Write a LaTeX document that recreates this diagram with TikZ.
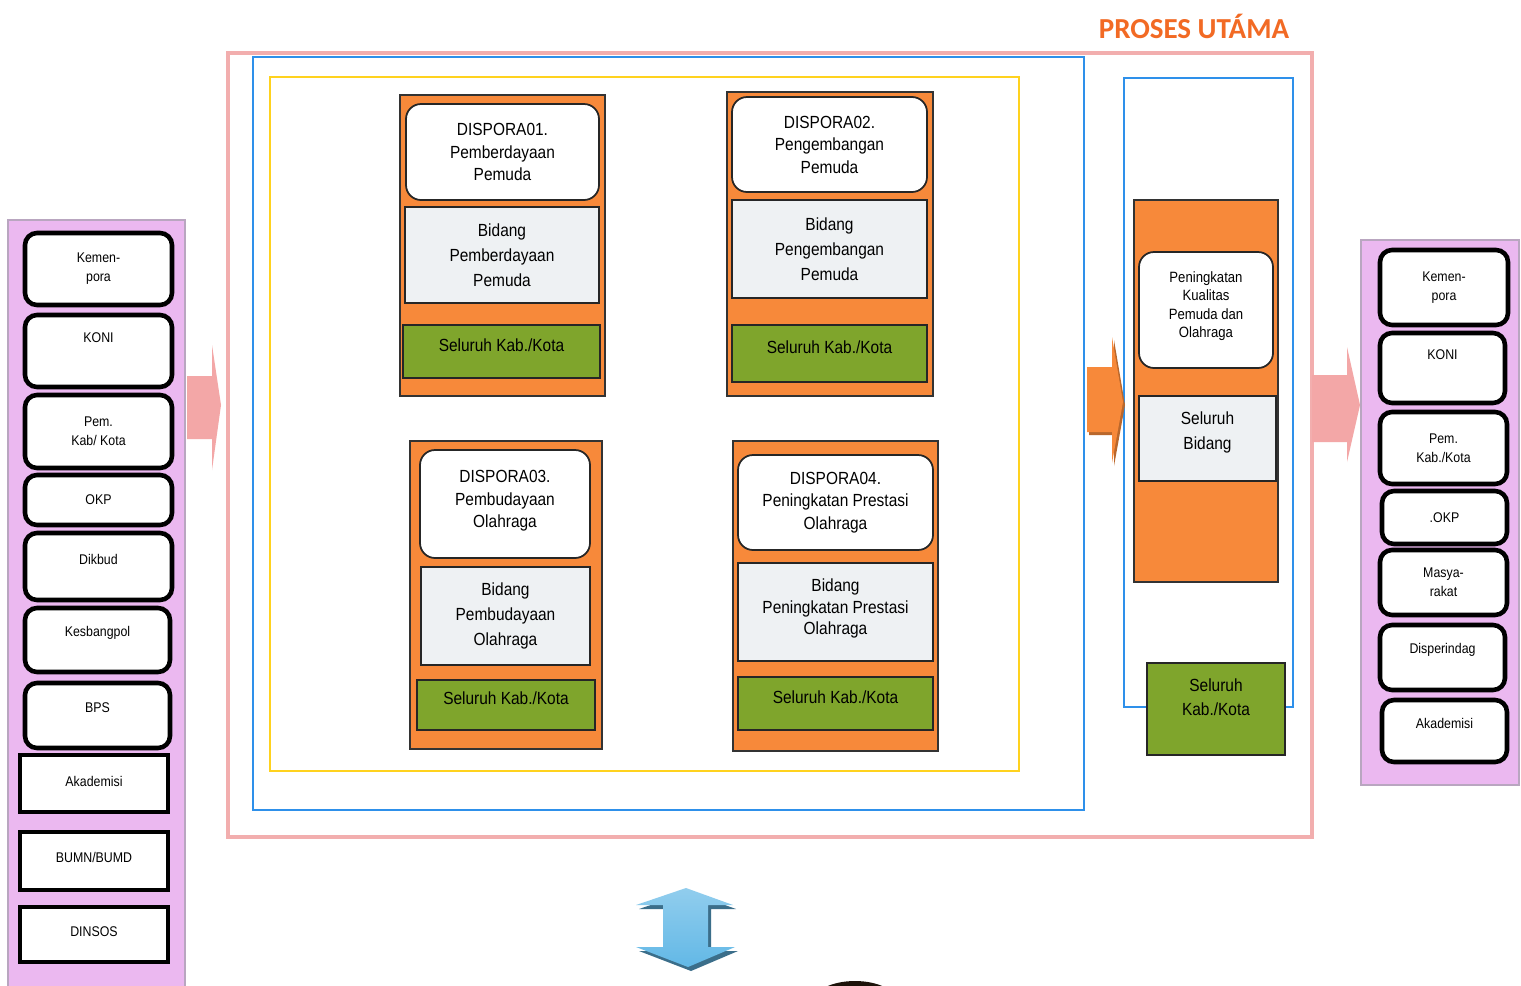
\documentclass[tikz,border=0pt]{standalone}
\usepackage{fontspec}
\setmainfont{Liberation Sans}[FakeStretch=0.88]
\newfontfamily\titlefont{Carlito}
\definecolor{panelviolet}{HTML}{EBB8F0}
\definecolor{paneledge}{HTML}{B9A6C0}
\definecolor{framepink}{HTML}{F2AEAE}
\definecolor{frameblue}{HTML}{2E90EA}
\definecolor{frameyellow}{HTML}{FFD21E}
\definecolor{boxorange}{HTML}{F7893A}
\definecolor{boxgreen}{HTML}{7FA52C}
\definecolor{boxlight}{HTML}{EEF1F3}
\definecolor{arrowpink}{HTML}{F3A7A7}
\definecolor{arrowblue}{HTML}{62B8E6}
\definecolor{titleorange}{HTML}{F26A24}
\newcommand\upby[2]{\raisebox{#1}[\height][\depth]{#2}}
\newcommand\topgap[1]{\rule{0pt}{#1}}
\newcommand\botgap[1]{\rule[-#1]{0pt}{#1}}

\begin{document}
\begin{tikzpicture}[x=0.02cm, y=-0.02cm,
		every node/.style = {inner sep=0pt, align=center,
			font=\fontsize{10}{12.8}\selectfont},
		sink/.style = {execute at begin node=\topgap{#1}},
		lift/.style = {execute at end node=\botgap{#1}},
		area/.style n args = {4}{at={({(#1+#3)/2},{(#2+#4)/2})},
			minimum width={(#3-#1)*0.02cm}, minimum height={(#4-#2)*0.02cm}},
		panel/.style = {fill=panelviolet, draw=paneledge, line width=0.8pt},
		party/.style = {draw=black, line width=2.6pt, rounded corners=0.24cm,
			fill=white, font=\fontsize{8}{10.8}\selectfont},
		partytwo/.style = {party, sink=14pt},
		partysq/.style = {party, rounded corners=0pt},
		frame/.style = {draw, fill=none},
		group/.style = {fill=boxorange, draw=black!80, line width=1.1pt},
		program/.style = {fill=white, draw=black!85, line width=1pt, rounded corners=0.3cm},
		bidang/.style = {fill=boxlight, draw=black!85, line width=1pt,
			font=\fontsize{10}{14.2}\selectfont},
		wilayah/.style = {fill=boxgreen, draw=black!85, line width=1pt}]
	\useasboundingbox[fill=white] (0,0) rectangle (1521,985);
	\node[panel, area={8}{220}{185}{995}] (masukan) {};
	\node[panel, area={1361}{240}{1519}{785}] (keluaran) {};
	\node[frame, draw=framepink, line width=2.2pt, area={228}{53}{1312}{837}] (proses) {};
	\node[frame, draw=frameblue, line width=1.1pt, area={253}{57}{1084}{810}] (bidangan) {};
	\node[frame, draw=frameyellow, line width=1pt, area={270}{77}{1019}{771}] (program) {};
	\node[frame, draw=frameblue, line width=1.1pt, area={1124}{78}{1293}{707}] (hasil) {};
	\node[text=titleorange, font=\titlefont\fontsize{16.5}{18}\selectfont\bfseries] (judul) at (1194,26) {PROSES UT\'AMA};

	\node[partytwo, area={25}{233}{172}{305}] (kemenL) {Kemen-\\pora};
	\node[party, area={25}{315}{172}{387}] (koniL) {\upby{0.26cm}{KONI}};
	\node[partytwo, area={25}{395}{172}{468}] (pemkabL) {Pem.\\Kab/ Kota};
	\node[party, area={25}{475}{172}{525}] (okpL) {OKP};
	\node[party, area={25}{533}{172}{600}] (dikbudL) {\upby{0.15cm}{Dikbud}};
	\node[party, area={25}{608}{170}{672}] (kesbangL) {\upby{0.14cm}{Kesbangpol}};
	\node[party, area={25}{683}{170}{748}] (bpsL) {\upby{0.15cm}{BPS}};
	\node[partysq, area={20}{755}{168}{812}] (akadL) {\upby{0.05cm}{Akademisi}};
	\node[partysq, area={20}{832}{168}{890}] (bumnL) {\upby{0.08cm}{BUMN/BUMD}};
	\node[partysq, area={20}{907}{168}{962}] (dinsosL) {\upby{0.05cm}{DINSOS}};

	\node[partytwo, area={1380}{250}{1508}{325}] (kemenR) {Kemen-\\pora};
	\node[party, area={1380}{333}{1505}{403}] (koniR) {\upby{0.26cm}{KONI}};
	\node[partytwo, area={1380}{412}{1507}{484}] (pemkabR) {Pem.\\Kab./Kota};
	\node[party, area={1382}{491}{1507}{544}] (okpR) {.OKP};
	\node[partytwo, area={1380}{550}{1507}{615}] (masyR) {Masya-\\rakat};
	\node[party, area={1380}{625}{1505}{690}] (disperR) {\upby{0.15cm}{Disperindag}};
	\node[party, area={1382}{700}{1507}{762}] (akadR) {\upby{0.16cm}{Akademisi}};

	\node[group, area={400}{95}{605}{396}] (g1) {};
	\node[program, sink=14pt, area={406}{104}{599}{200}] (g1top) {DISPORA01.\\Pemberdayaan\\Pemuda};
	\node[bidang, sink=14pt, area={405}{207}{599}{303}] (g1bid) {Bidang\\Pemberdayaan\\Pemuda};
	\node[wilayah, lift=7.7pt, area={403}{325}{600}{378}] (g1kab) {Seluruh Kab./Kota};

	\node[group, area={727}{92}{933}{396}] (g2) {};
	\node[program, sink=14pt, area={732}{97}{927}{192}] (g2top) {DISPORA02.\\Pengembangan\\Pemuda};
	\node[bidang, sink=14pt, area={732}{200}{927}{298}] (g2bid) {Bidang\\Pengembangan\\Pemuda};
	\node[wilayah, lift=7.7pt, area={732}{325}{927}{382}] (g2kab) {Seluruh Kab./Kota};

	\node[group, area={410}{441}{602}{749}] (g3) {};
	\node[program, sink=10.6pt, lift=5.5pt, area={420}{450}{590}{558}] (g3top) {DISPORA03.\\Pembudayaan\\Olahraga};
	\node[bidang, sink=14pt, area={421}{567}{590}{665}] (g3bid) {Bidang\\Pembudayaan\\Olahraga};
	\node[wilayah, lift=7.7pt, area={417}{680}{595}{730}] (g3kab) {Seluruh Kab./Kota};

	\node[group, area={733}{441}{938}{751}] (g4) {};
	\node[program, sink=14pt, area={738}{455}{933}{550}] (g4top) {DISPORA04.\\Peningkatan Prestasi\\Olahraga};
	\node[bidang, font=\fontsize{10}{12.3}\selectfont, sink=10pt, lift=6.1pt, area={738}{563}{933}{661}] (g4bid) {Bidang\\Peningkatan Prestasi\\Olahraga};
	\node[wilayah, lift=7.7pt, area={738}{677}{933}{730}] (g4kab) {Seluruh Kab./Kota};

	\node[group, area={1134}{200}{1278}{582}] (pk) {};
	\node[program, font=\fontsize{8.5}{10.5}\selectfont, sink=9.4pt, lift=6.4pt, area={1139}{252}{1273}{368}] (pktop) {Peningkatan\\Kualitas\\Pemuda dan\\Olahraga};
	\node[bidang, lift=8.8pt, area={1139}{396}{1276}{481}] (pkbid) {Seluruh\\Bidang};
	\node[wilayah, font=\fontsize{10}{13.6}\selectfont, lift=13.7pt, area={1147}{663}{1285}{755}] (pkkab) {Seluruh\\Kab./Kota};

	\fill[arrowpink] (187,376) -- (212,376) -- (212,345) -- (221,405) -- (212,470) -- (212,439) -- (187,439) -- cycle;
	\fill[arrowpink] (1312,375) -- (1347,375) -- (1347,347) -- (1360,405) -- (1347,462) -- (1347,442) -- (1312,442) -- cycle;
	\fill[boxorange!75!black, shift={(2,3)}] (1087,367) -- (1112,367) -- (1112,337) -- (1123,402) -- (1112,463) -- (1112,432) -- (1087,432) -- cycle;
	\fill[boxorange] (1087,367) -- (1112,367) -- (1112,337) -- (1123,402) -- (1112,463) -- (1112,432) -- (1087,432) -- cycle;
	\fill[arrowblue!60!black, shift={(3,4)}] (686,888) -- (733,905) -- (708,905) -- (708,947) -- (735,947) -- (688,967) -- (636,947) -- (663,947) -- (663,905) -- (636,905) -- cycle;
	\shade[top color=arrowblue!70, bottom color=arrowblue] (686,888) -- (733,905) -- (708,905) -- (708,947) -- (735,947) -- (688,967) -- (636,947) -- (663,947) -- (663,905) -- (636,905) -- cycle;
	\fill[black!85!brown] (855,1002) ellipse [x radius=0.84cm, y radius=0.42cm];
\end{tikzpicture}
\end{document}
